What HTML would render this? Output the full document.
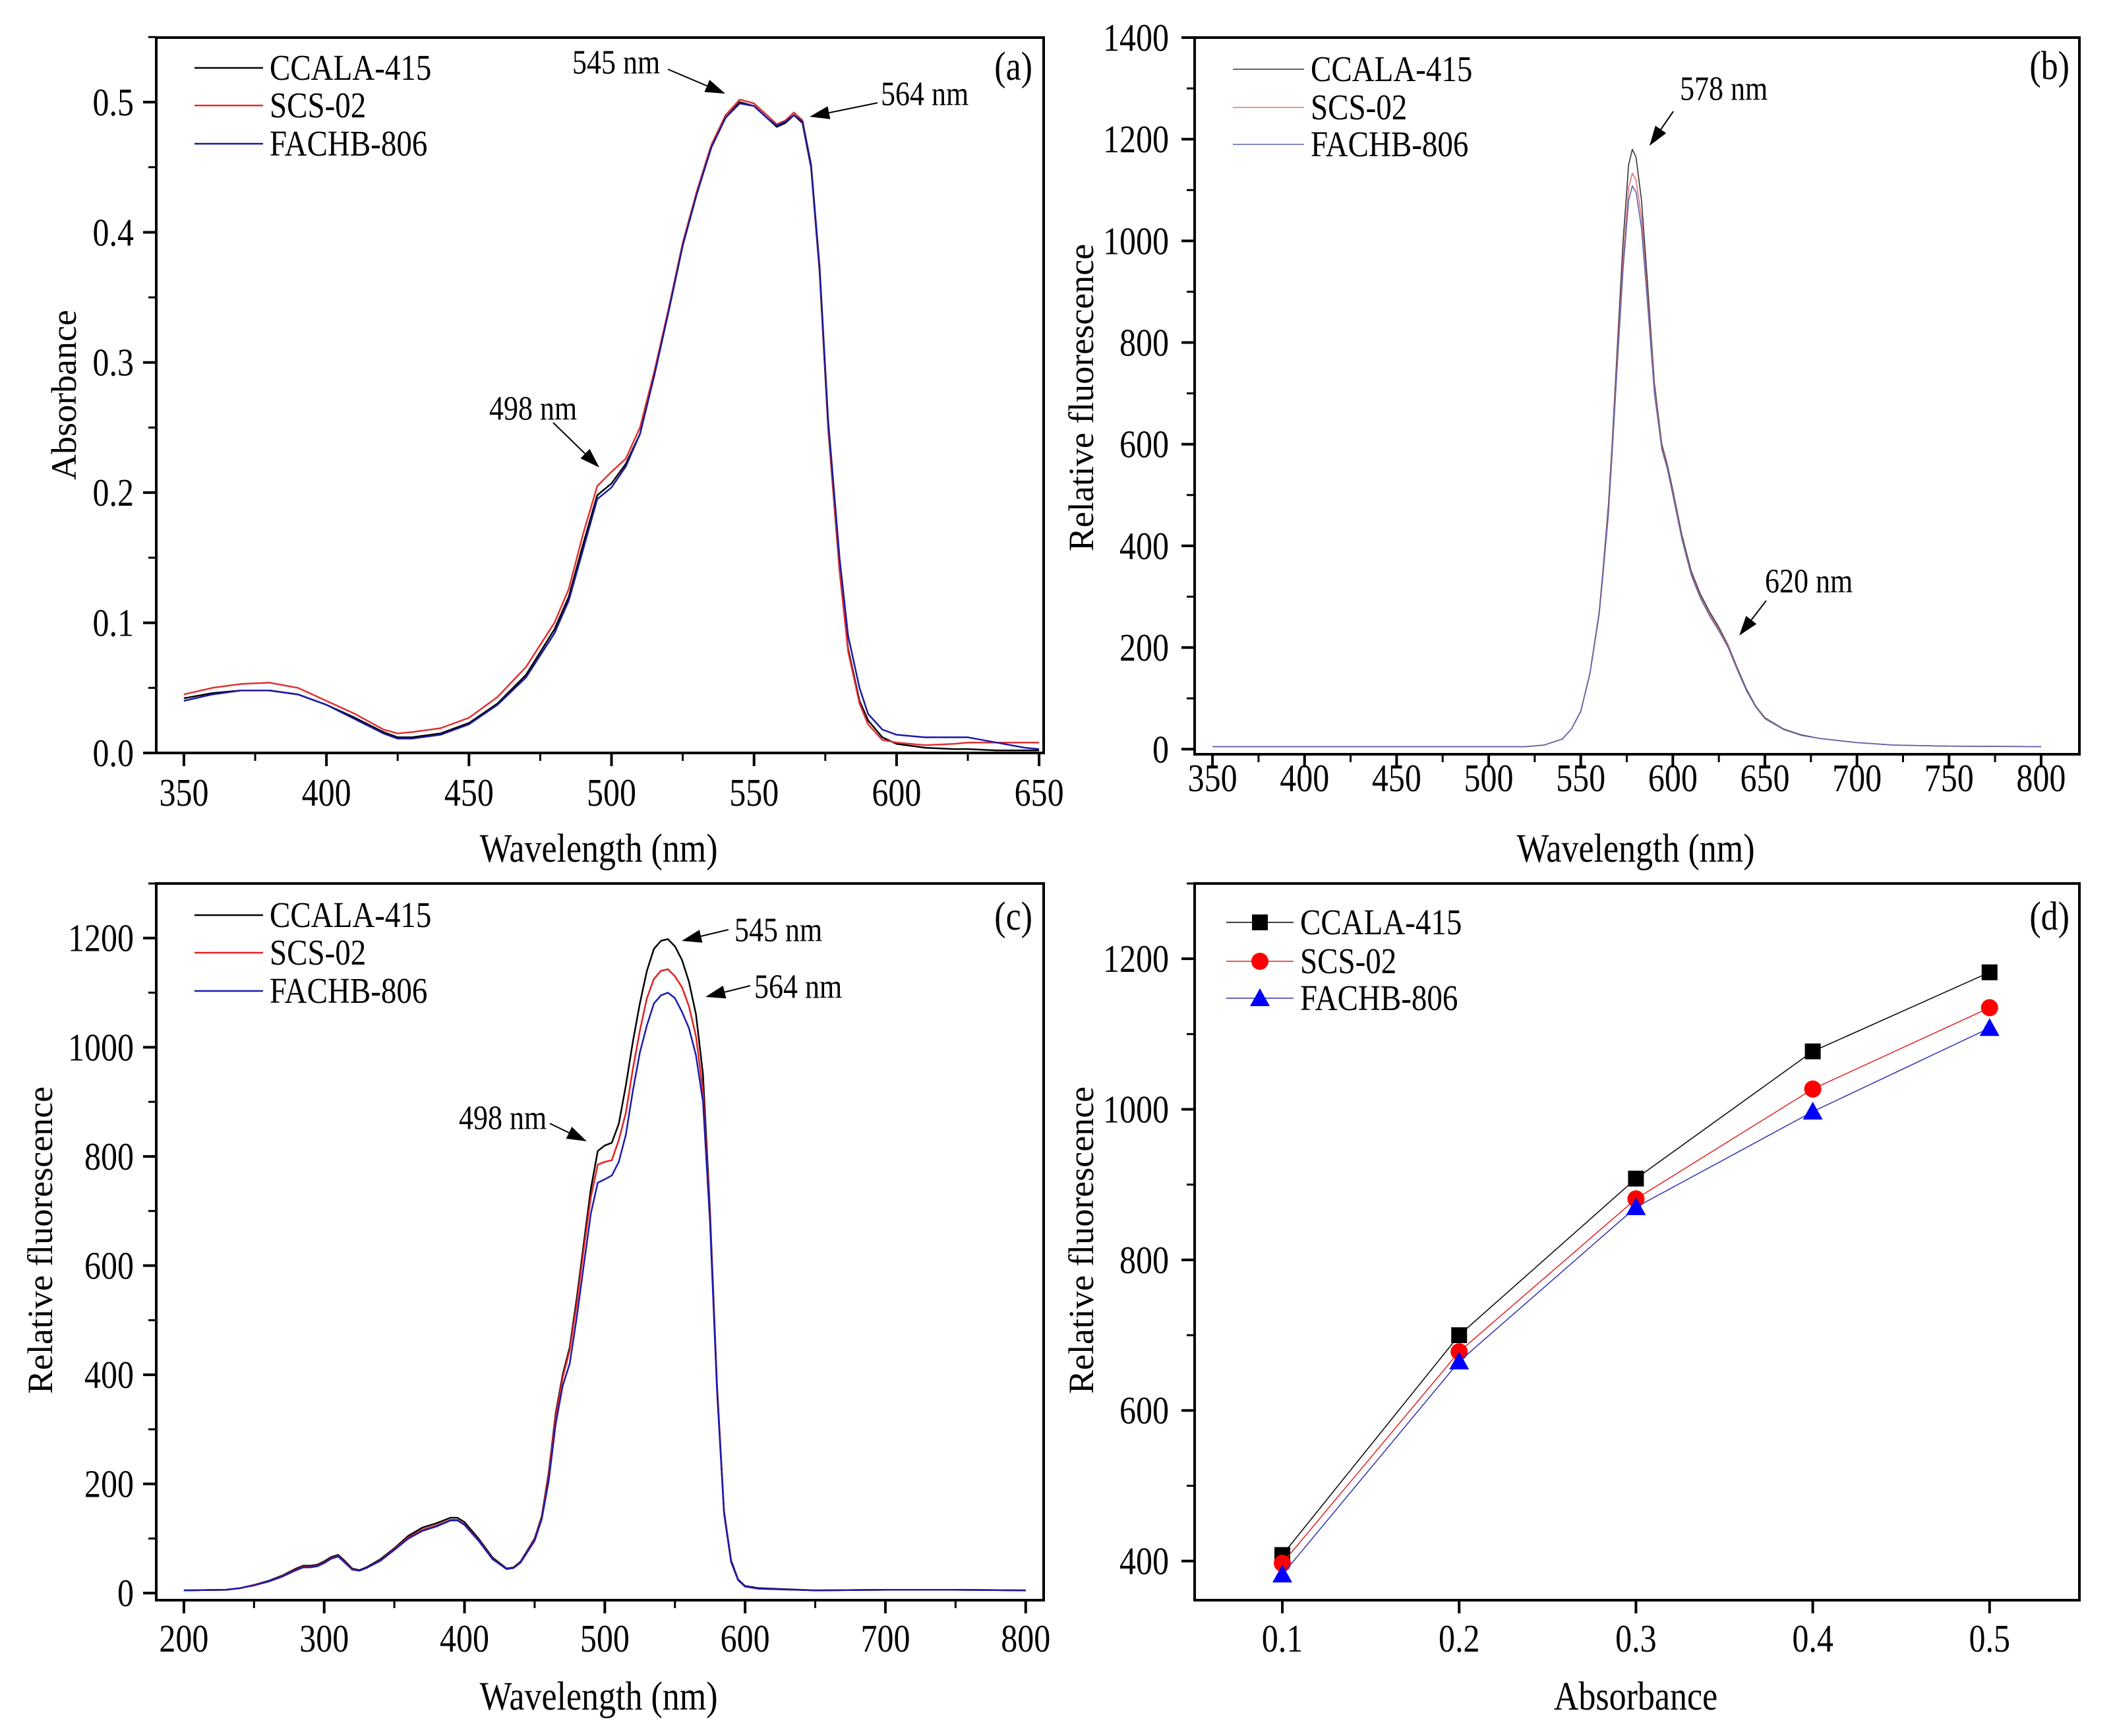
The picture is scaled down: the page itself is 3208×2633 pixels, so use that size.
<!DOCTYPE html>
<html><head><meta charset="utf-8"><style>
html,body{margin:0;padding:0;background:#fff;}
svg{display:block;font-family:"Liberation Serif",serif;}
</style></head><body>
<svg id="fig" width="3208" height="2633" viewBox="0 0 3208 2633" xmlns="http://www.w3.org/2000/svg">
<rect width="3208" height="2633" fill="#fff"/>
</svg>
<script>
// ---------- Panel (a) absorbance data ----------
const aWl = [350,360,370,380,390,400,410,420,425,430,440,450,460,470,480,485,490,495,500,505,510,515,520,525,530,535,540,545,550,555,558,561,564,567,570,573,576,580,583,587,590,595,600,610,620,625,635,645,650];
const aCCALA = [0.042,0.046,0.048,0.048,0.045,0.037,0.027,0.016,0.012,0.012,0.015,0.023,0.038,0.060,0.095,0.120,0.160,0.198,0.207,0.222,0.245,0.290,0.339,0.390,0.430,0.465,0.488,0.500,0.497,0.487,0.481,0.484,0.490,0.484,0.450,0.370,0.250,0.140,0.080,0.040,0.025,0.012,0.007,0.004,0.003,0.003,0.002,0.002,0.002];
const aSCS = [0.045,0.050,0.053,0.054,0.050,0.040,0.030,0.018,0.015,0.016,0.019,0.027,0.043,0.066,0.100,0.126,0.168,0.205,0.216,0.226,0.250,0.293,0.341,0.392,0.432,0.467,0.490,0.502,0.499,0.489,0.483,0.486,0.492,0.486,0.452,0.372,0.252,0.140,0.078,0.038,0.022,0.010,0.008,0.006,0.007,0.008,0.008,0.008,0.008];
const aFACHB = [0.040,0.045,0.048,0.048,0.045,0.037,0.026,0.015,0.011,0.011,0.014,0.022,0.037,0.058,0.092,0.117,0.156,0.195,0.204,0.220,0.245,0.290,0.339,0.390,0.430,0.465,0.488,0.499,0.497,0.487,0.482,0.485,0.490,0.485,0.452,0.374,0.256,0.150,0.090,0.050,0.030,0.018,0.014,0.012,0.012,0.012,0.008,0.004,0.003];
// ---------- Panel (b) emission data ----------
const bWl = [350,520,530,540,545,550,555,560,562,565,567,570,573,576,578,580,583,586,590,594,597,600,605,610,615,620,625,630,635,640,645,650,660,670,680,700,720,750,800];
const bCCALA = [5,5,8,20,40,75,150,270,350,480,600,800,1000,1150,1180,1165,1080,930,720,600,560,510,420,350,305,270,240,205,160,118,85,62,40,28,21,13,8,6,5];
const bSCS = [5,5,8,20,40,75,150,268,345,470,590,780,965,1105,1133,1120,1045,905,710,595,555,505,415,345,300,266,236,203,158,116,84,61,39,27,21,13,8,6,5];
const bFACHB = [5,5,8,20,40,74,148,265,340,462,580,765,945,1080,1108,1096,1025,890,700,590,552,500,412,342,297,262,233,200,156,115,83,60,39,27,21,13,8,6,5];
// ---------- Panel (c) excitation data ----------
const cWl = [200,230,240,250,260,270,280,285,290,295,300,305,310,315,320,325,330,340,350,360,370,380,390,395,400,410,420,430,435,440,450,455,460,465,470,475,480,485,490,495,500,505,510,515,520,525,530,535,540,545,550,555,560,565,570,575,580,585,590,595,600,610,650,700,750,800];
const cCCALA = [5,6,9,15,22,32,45,50,50,52,58,66,70,58,45,42,47,62,82,105,120,128,138,138,130,100,65,45,47,58,100,140,220,330,400,450,540,640,740,810,820,825,860,930,1010,1080,1140,1180,1195,1198,1185,1160,1120,1060,950,700,380,150,60,25,13,9,5,6,6,5];
const cSCS = [5,6,9,15,21,31,43,48,48,50,56,64,68,56,44,41,46,60,80,102,116,124,134,134,126,97,63,44,46,57,98,138,215,325,395,445,530,630,725,785,790,793,830,880,960,1030,1090,1125,1140,1143,1130,1110,1075,1020,920,690,375,148,58,24,12,8,5,6,6,5];
const cFACHB = [5,6,9,14,21,30,42,47,47,49,55,63,67,55,43,41,46,59,79,100,114,122,133,133,125,96,62,44,46,56,96,135,205,310,380,420,505,600,695,752,758,765,790,840,920,990,1040,1080,1095,1100,1090,1065,1035,985,900,680,370,146,57,24,12,8,5,6,6,5];
// ---------- Panel (d) data ----------
const dAbs = [0.1,0.2,0.3,0.4,0.5];
const dCCALA = [408,700,908,1077,1182];
const dSCS = [397,678,881,1027,1135];
const dFACHB = [382,665,870,997,1108];
const seriesNames = ["CCALA-415","SCS-02","FACHB-806"];

const NS = "http://www.w3.org/2000/svg";
const svg = document.getElementById("fig");
const SY = 1.18;
function mk(tag, attrs, parent){
  const e = document.createElementNS(NS, tag);
  for (const k in attrs) e.setAttribute(k, attrs[k]);
  (parent||svg).appendChild(e);
  return e;
}
function txt(s, attrs, parent){
  const a = Object.assign({}, attrs);
  const x = a.x, y = a.y;
  delete a.x; delete a.y;
  a.transform = `translate(${x},${y}) scale(1,${SY})`;
  const t = mk("text", a, parent); t.textContent = s; return t;
}

function panel(cfg){
  const g = mk("g", {});
  
  
  const X = v => cfg.L + (v - cfg.x0) / (cfg.x1 - cfg.x0) * (cfg.R - cfg.L);
  const Y = v => cfg.B - (v - cfg.y0) / (cfg.y1 - cfg.y0) * (cfg.B - cfg.T);
  cfg.series.forEach((s, i) => {
    const pts = s.ys.map((v, j) => X(cfg.xs[j]).toFixed(1) + "," + Y(v).toFixed(1)).join(" ");
    const pl = mk("polyline", {points: pts, fill: "none", stroke: s.color, "stroke-width": cfg.lw, "stroke-linejoin": "round"}, g);
    
    
    if (cfg.markers) {
      s.ys.forEach((v, j) => {
        const cx = X(cfg.xs[j]), cy = Y(v);
        let m;
        if (i === 0) m = mk("rect", {x: cx-12, y: cy-12, width: 24, height: 24, fill: s.mc}, g);
        else if (i === 1) m = mk("circle", {cx: cx, cy: cy, r: 13, fill: s.mc}, g);
        else m = mk("polygon", {points: `${cx},${cy-15} ${cx-15},${cy+12} ${cx+15},${cy+12}`, fill: s.mc}, g);
        
        
      });
    }
  });
  const fr = mk("rect", {x: cfg.L, y: cfg.T, width: cfg.R - cfg.L, height: cfg.B - cfg.T, fill: "none", stroke: "#000", "stroke-width": 4}, g);
  
  
  cfg.xticks.forEach(v => {
    mk("line", {x1: X(v), x2: X(v), y1: cfg.B, y2: cfg.B + 20, stroke: "#000", "stroke-width": 4}, g);
    const t = txt(cfg.xfmt(v), {x: X(v), y: cfg.xlabY, "font-size": 50, "text-anchor": "middle", "dominant-baseline": "central"}, g);
    
    
  });
  (cfg.xminor||[]).forEach(v => mk("line", {x1: X(v), x2: X(v), y1: cfg.B, y2: cfg.B + 12, stroke: "#000", "stroke-width": 3}, g));
  cfg.yticks.forEach(v => {
    mk("line", {x1: cfg.L - 20, x2: cfg.L, y1: Y(v), y2: Y(v), stroke: "#000", "stroke-width": 4}, g);
    const t = txt(cfg.yfmt(v), {x: cfg.ylabX, y: Y(v), "font-size": 50, "text-anchor": "end", "dominant-baseline": "central"}, g);
    
    
  });
  (cfg.yminor||[]).forEach(v => mk("line", {x1: cfg.L - 12, x2: cfg.L, y1: Y(v), y2: Y(v), stroke: "#000", "stroke-width": 3}, g));
  const xt = txt(cfg.xtitle, {x: cfg.xtX, y: cfg.xtY, "font-size": 52, "text-anchor": "middle", "dominant-baseline": "central"}, g);
  
  
  const yt = mk("text", {x: 0, y: 0, "font-size": 54, "text-anchor": "middle", "dominant-baseline": "central", transform: `translate(${cfg.ytX},${cfg.ytY}) rotate(-90)`}, g);
  yt.textContent = cfg.ytitle;
  
  
  const pl = txt(cfg.letter, {x: cfg.letterX, y: cfg.letterY, "font-size": 52, "text-anchor": "end", "dominant-baseline": "central"}, g);
  
  
  cfg.series.forEach((s, i) => {
    const ly = cfg.legY[i];
    const le = mk("g", {}, g);
    
    
    mk("line", {x1: cfg.legX0, x2: cfg.legX1, y1: ly, y2: ly, stroke: s.color, "stroke-width": cfg.lw}, le);
    if (cfg.markers) {
      const cx = (cfg.legX0 + cfg.legX1) / 2;
      if (i === 0) mk("rect", {x: cx-12, y: ly-12, width: 24, height: 24, fill: s.mc}, le);
      else if (i === 1) mk("circle", {cx: cx, cy: ly, r: 13, fill: s.mc}, le);
      else mk("polygon", {points: `${cx},${ly-15} ${cx-15},${ly+12} ${cx+15},${ly+12}`, fill: s.mc}, le);
    }
    txt(seriesNames[i], {x: cfg.legX1 + 10, y: ly, "font-size": 47, "dominant-baseline": "central"}, le);
  });
  (cfg.ann||[]).forEach(a => {
    const ag = mk("g", {}, g);
    
    
    txt(a.t, {x: a.tx, y: a.ty, "font-size": 44, "dominant-baseline": "central"}, ag);
    const dx = a.x2 - a.x1, dy = a.y2 - a.y1, L = Math.hypot(dx, dy), ux = dx/L, uy = dy/L;
    const hx = a.x2 - ux*30, hy = a.y2 - uy*30;
    mk("line", {x1: a.x1, y1: a.y1, x2: hx, y2: hy, stroke: "#000", "stroke-width": 2}, ag);
    mk("polygon", {points: `${a.x2},${a.y2} ${hx - uy*10},${hy + ux*10} ${hx + uy*10},${hy - ux*10}`, fill: "#000"}, ag);
  });
}
const range = (a, b, s) => { const r = []; for (let v = a; v <= b + 1e-9; v += s) r.push(+v.toFixed(4)); return r; };

panel({name: "panel-a-absorbance", L: 237, R: 1583, T: 57, B: 1142, x0: 340.3, x1: 651.6, y0: 0, y1: 0.5496,
  xs: aWl, lw: 2.5,
  series: [{ys: aCCALA, color: "#000"}, {ys: aSCS, color: "#e03030"}, {ys: aFACHB, color: "#1a1aa0"}],
  xticks: range(350, 650, 50), xminor: range(375, 625, 50), xfmt: v => String(v), xlabY: 1202,
  yticks: range(0, 0.5, 0.1), yminor: range(0.05, 0.55, 0.1), yfmt: v => v.toFixed(1), ylabX: 203,
  xtitle: "Wavelength (nm)", xtX: 908, xtY: 1287, ytitle: "Absorbance", ytX: 97, ytY: 599,
  letter: "(a)", letterX: 1566, letterY: 101,
  legX0: 295, legX1: 399, legY: [103, 160, 218],
  ann: [{t: "545 nm", tx: 868, ty: 95, x1: 1013, y1: 105, x2: 1100, y2: 142},
        {t: "564 nm", tx: 1336, ty: 143, x1: 1331, y1: 156, x2: 1228, y2: 177},
        {t: "498 nm", tx: 742, ty: 620, x1: 839, y1: 641, x2: 909, y2: 709}]});

panel({name: "panel-b-emission", L: 1812, R: 3154, T: 57, B: 1144, x0: 340.3, x1: 820.8, y0: -10, y1: 1400,
  xs: bWl, lw: 1.6,
  series: [{ys: bCCALA, color: "#333"}, {ys: bSCS, color: "#e07070"}, {ys: bFACHB, color: "#6060b0"}],
  xticks: range(350, 800, 50), xminor: range(375, 775, 50), xfmt: v => String(v), xlabY: 1180,
  yticks: range(0, 1400, 200), yminor: range(100, 1300, 200), yfmt: v => String(v), ylabX: 1773,
  xtitle: "Wavelength (nm)", xtX: 2481, xtY: 1287, ytitle: "Relative fluorescence", ytX: 1640, ytY: 603,
  letter: "(b)", letterX: 3139, letterY: 100,
  legX0: 1870, legX1: 1978, legY: [105, 163, 219],
  ann: [{t: "578 nm", tx: 2548, ty: 135, x1: 2538, y1: 169, x2: 2502, y2: 221},
        {t: "620 nm", tx: 2677, ty: 882, x1: 2679, y1: 911, x2: 2638, y2: 964}]});

panel({name: "panel-c-excitation", L: 237, R: 1583, T: 1340, B: 2427, x0: 180.3, x1: 812.8, y0: -13, y1: 1300,
  xs: cWl, lw: 2.5,
  series: [{ys: cCCALA, color: "#000"}, {ys: cSCS, color: "#e02020"}, {ys: cFACHB, color: "#1a1ab0"}],
  xticks: range(200, 800, 100), xminor: range(250, 750, 100), xfmt: v => String(v), xlabY: 2485,
  yticks: range(0, 1200, 200), yminor: range(100, 1300, 200), yfmt: v => String(v), ylabX: 203,
  xtitle: "Wavelength (nm)", xtX: 908, xtY: 2573, ytitle: "Relative fluorescence", ytX: 61, ytY: 1881,
  letter: "(c)", letterX: 1566, letterY: 1390,
  legX0: 295, legX1: 399, legY: [1388, 1445, 1503],
  ann: [{t: "545 nm", tx: 1114, ty: 1411, x1: 1105, y1: 1410, x2: 1034, y2: 1427},
        {t: "564 nm", tx: 1144, ty: 1497, x1: 1138, y1: 1495, x2: 1070, y2: 1512},
        {t: "498 nm", tx: 696, ty: 1696, x1: 834, y1: 1704, x2: 890, y2: 1731}]});

panel({name: "panel-d-linearity", L: 1812, R: 3154, T: 1340, B: 2427, x0: 0.0504, x1: 0.5508, y0: 348, y1: 1300,
  xs: dAbs, lw: 1.5, markers: true,
  series: [{ys: dCCALA, color: "#000", mc: "#000"}, {ys: dSCS, color: "#e02020", mc: "#ff0000"}, {ys: dFACHB, color: "#3030b0", mc: "#0000ff"}],
  xticks: range(0.1, 0.5, 0.1), xminor: [], xfmt: v => v.toFixed(1), xlabY: 2485,
  yticks: range(400, 1200, 200), yminor: range(500, 1300, 200), yfmt: v => String(v), ylabX: 1773,
  xtitle: "Absorbance", xtX: 2481, xtY: 2573, ytitle: "Relative fluorescence", ytX: 1640, ytY: 1881,
  letter: "(d)", letterX: 3139, letterY: 1390,
  legX0: 1860, legX1: 1962, legY: [1399, 1458, 1514]});
</script>
</body></html>
